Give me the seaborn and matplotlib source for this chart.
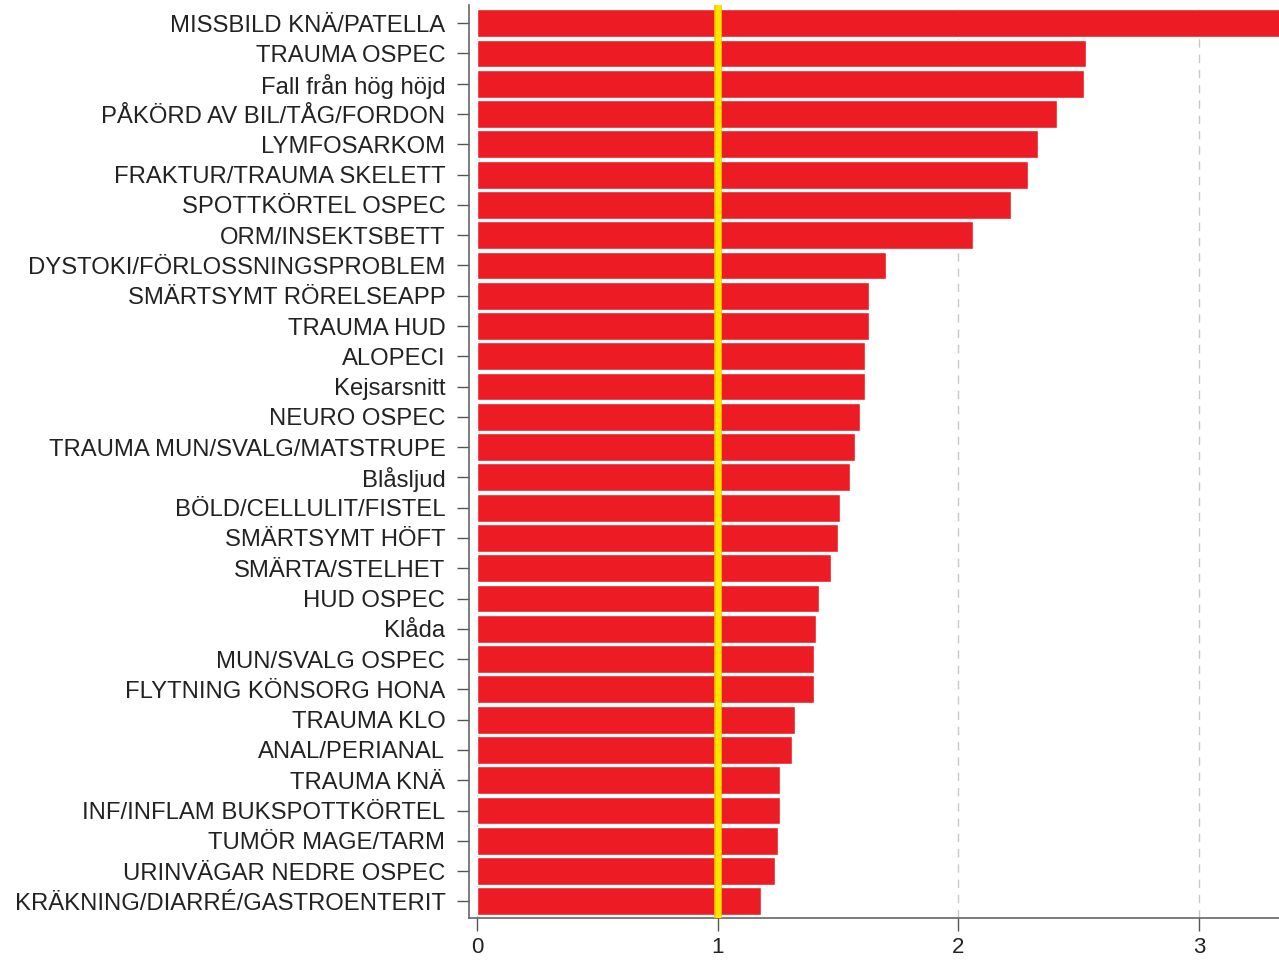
import pandas as pd
import seaborn as sns
import matplotlib.pyplot as plt

# ---------------------------------------------------------------
# Data
# ---------------------------------------------------------------
categories = [
    "MISSBILD KNÄ/PATELLA",
    "TRAUMA OSPEC",
    "Fall från hög höjd",
    "PÅKÖRD AV BIL/TÅG/FORDON",
    "LYMFOSARKOM",
    "FRAKTUR/TRAUMA SKELETT",
    "SPOTTKÖRTEL OSPEC",
    "ORM/INSEKTSBETT",
    "DYSTOKI/FÖRLOSSNINGSPROBLEM",
    "SMÄRTSYMT RÖRELSEAPP",
    "TRAUMA HUD",
    "ALOPECI",
    "Kejsarsnitt",
    "NEURO OSPEC",
    "TRAUMA MUN/SVALG/MATSTRUPE",
    "Blåsljud",
    "BÖLD/CELLULIT/FISTEL",
    "SMÄRTSYMT HÖFT",
    "SMÄRTA/STELHET",
    "HUD OSPEC",
    "Klåda",
    "MUN/SVALG OSPEC",
    "FLYTNING KÖNSORG HONA",
    "TRAUMA KLO",
    "ANAL/PERIANAL",
    "TRAUMA KNÄ",
    "INF/INFLAM BUKSPOTTKÖRTEL",
    "TUMÖR MAGE/TARM",
    "URINVÄGAR NEDRE OSPEC",
    "KRÄKNING/DIARRÉ/GASTROENTERIT",
]
values = [
    3.45, 2.53, 2.52, 2.41, 2.33, 2.29, 2.22, 2.06, 1.70, 1.63,
    1.63, 1.61, 1.61, 1.59, 1.57, 1.55, 1.51, 1.50, 1.47, 1.42,
    1.41, 1.40, 1.40, 1.32, 1.31, 1.26, 1.26, 1.25, 1.24, 1.18,
]
reference_value = 1
x_ticks = [0, 1, 2, 3]

df = pd.DataFrame({"category": categories, "value": values})

# ---------------------------------------------------------------
# Plot
# ---------------------------------------------------------------
sns.set_theme(style="ticks")
plt.rcParams["font.family"] = ["Liberation Sans", "DejaVu Sans"]

fig = plt.figure(figsize=(12.79, 9.61), dpi=100)
ax = fig.add_axes([0.3667, 0.0447, 0.6333, 0.9501])

ax.grid(axis="x", linestyle=(0, (6, 5)), color="#c8c8c8", linewidth=1)
ax.set_axisbelow(True)

sns.barplot(
    data=df,
    x="value",
    y="category",
    orient="h",
    color="#ED1C24",
    saturation=1,
    width=0.92,
    ax=ax,
)
# reference line: orange fringe under a yellow core
ax.axvline(reference_value, color="#F2C200", linewidth=5.5, zorder=5)
ax.axvline(reference_value, color="#FFE400", linewidth=3.8, zorder=6)

ax.set_xlim(-0.0332, 3.332)
ax.set_ylim(len(categories) - 0.45, -0.6)
ax.set_xticks(x_ticks)
ax.set_xlabel("")
ax.set_ylabel("")
ax.tick_params(axis="both", color="#555555", labelcolor="#222222",
               length=9, width=1)
ax.tick_params(axis="y", labelsize=17.2, pad=8)
ax.tick_params(axis="x", labelsize=16, pad=5)
for side in ["top", "right"]:
    ax.spines[side].set_visible(False)
for side in ["left", "bottom"]:
    ax.spines[side].set_color("#666666")
    ax.spines[side].set_linewidth(1.2)

fig.savefig("out.png", dpi=100)
plt.close(fig)
